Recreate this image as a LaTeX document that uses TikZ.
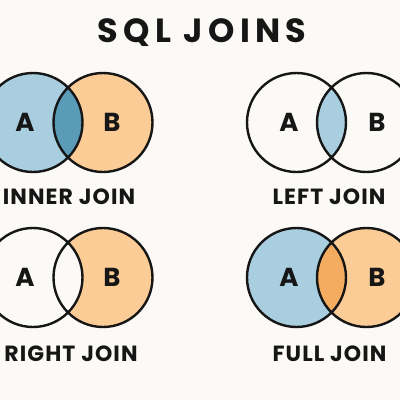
\documentclass[tikz,border=0pt]{standalone}
\usepackage{fontspec}
\setmainfont{Poppins}
\newfontfamily\headfont{Poppins}[LetterSpace=16]
\newfontfamily\capfont{Poppins}[LetterSpace=5]
\usetikzlibrary{positioning}
\definecolor{paper}{HTML}{FCFAF6}
\definecolor{ink}{HTML}{161616}
\definecolor{setA}{HTML}{A8CEE0}
\definecolor{setAdeep}{HTML}{5A9BB8}
\definecolor{setB}{HTML}{FCCC96}
\definecolor{setBdeep}{HTML}{F3AC60}
\begin{document}
\begin{tikzpicture}[x=1pt, y=-1pt,
  set/.style={circle, minimum size=99pt, inner sep=0pt},
  ring/.style={draw=ink, line width=2.4pt},
  letter/.style={font=\fontsize{26}{26}\selectfont\bfseries, text=ink},
  caption/.style={font=\capfont\fontsize{22}{22}\selectfont\bfseries, text=ink}]
\useasboundingbox (0,0) rectangle (400,400);
\fill[paper] (0,0) rectangle (400,400);
\node[font=\headfont\fontsize{33.5}{33.5}\selectfont\bfseries, text=ink] (title) at (202,33) {SQL JOINS};
% inner join
\node[set, fill=setA] (innerA) at (33,122.5) {};
\node[set, fill=setB] (innerB) at (103,122.5) {};
\begin{scope}
  \clip (innerA.center) circle (49.5);
  \fill[setAdeep] (innerB.center) circle (49.5);
\end{scope}
\draw[ring] (innerA.center) circle (49.5) (innerB.center) circle (49.5);
% left join
\node[set] (leftA) at (296.5,122.5) {};
\node[set] (leftB) at (366.5,122.5) {};
\begin{scope}
  \clip (leftA.center) circle (49.5);
  \fill[setA] (leftB.center) circle (49.5);
\end{scope}
\draw[ring] (leftA.center) circle (49.5) (leftB.center) circle (49.5);
% right join
\node[set] (rightA) at (33,277.5) {};
\node[set, fill=setB] (rightB) at (103,277.5) {};
\begin{scope}
  \clip (rightA.center) circle (49.5);
  \fill[paper] (rightB.center) circle (49.5);
\end{scope}
\draw[ring] (rightA.center) circle (49.5) (rightB.center) circle (49.5);
% full join
\node[set, fill=setA] (fullA) at (296.5,277.5) {};
\node[set, fill=setB] (fullB) at (366.5,277.5) {};
\begin{scope}
  \clip (fullA.center) circle (49.5);
  \fill[setBdeep] (fullB.center) circle (49.5);
\end{scope}
\draw[ring] (fullA.center) circle (49.5) (fullB.center) circle (49.5);
% letters
\foreach \p in {inner,right}{
  \node[letter] (\p a) at ([xshift=-8pt]\p A.center) {A};
  \node[letter] (\p b) at ([xshift=9pt]\p B.center) {B};
}
\foreach \p in {left,full}{
  \node[letter] (\p a) at ([xshift=-7.5pt]\p A.center) {A};
  \node[letter] (\p b) at ([xshift=10.5pt]\p B.center) {B};
}
% captions
\node[caption] (innerlbl) at (69,197) {INNER JOIN};
\node[caption] (leftlbl) at (329,197) {LEFT JOIN};
\node[caption] (rightlbl) at (71,354) {RIGHT JOIN};
\node[caption] (fulllbl) at (329.5,354) {FULL JOIN};
\end{tikzpicture}
\end{document}
